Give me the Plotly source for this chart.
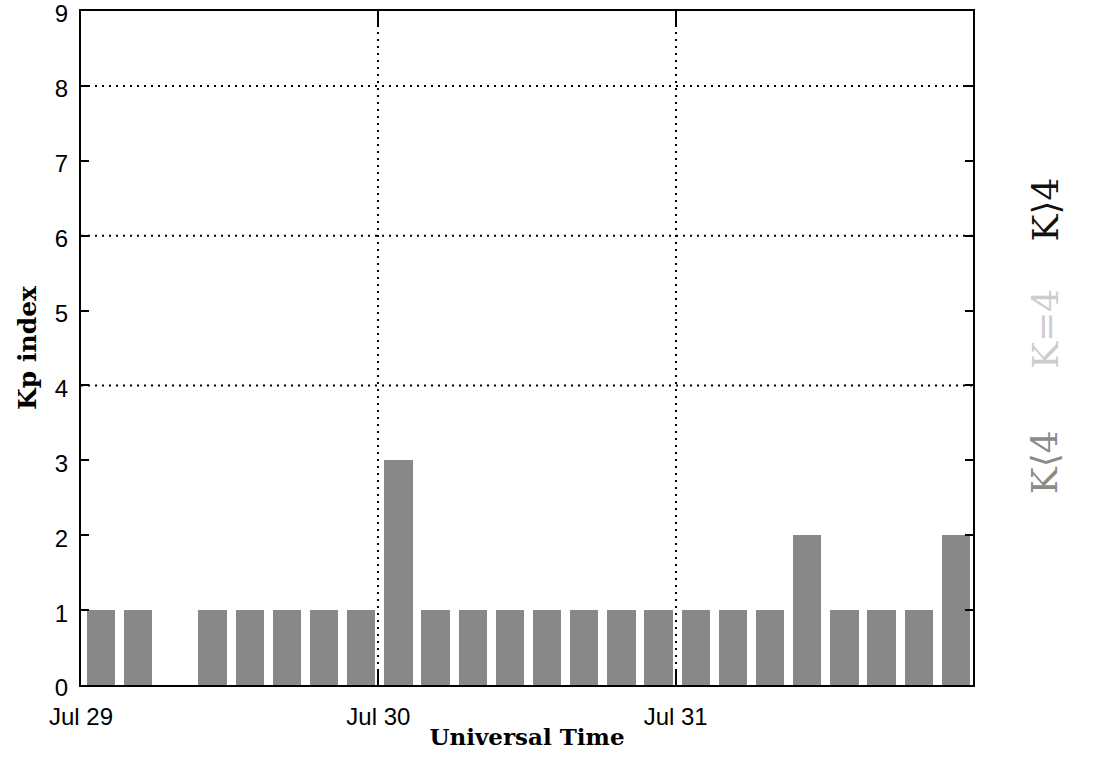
import pandas as pd
import plotly.graph_objects as go

# 3-hour interval start times (UT) and Kp values
SLOT_STARTS = pd.date_range("2011-07-29 00:00", periods=24, freq="3h")
KP_VALUES = [1, 1, None, 1, 1, 1, 1, 1,
             3, 1, 1, 1, 1, 1, 1, 1,
             1, 1, 1, 2, 1, 1, 1, 2]
TICK_DATES = ["2011-07-29", "2011-07-30", "2011-07-31"]
TICK_LABELS = ["Jul 29", "Jul 30", "Jul 31"]
Y_TICKS = [0, 1, 2, 3, 4, 5, 6, 7, 8, 9]
Y_GRID = [4, 6, 8]
X_RANGE = ["2011-07-29 00:00", "2011-08-01 00:00"]
LEGEND_TEXT = ["K\u27e84", "K=4", "K\u27e94"]
LEGEND_COLORS = ["#8a8a8a", "#cdcdcd", "#111111"]
LEGEND_Y = [0.331, 0.529, 0.706]

slot_ms = 3 * 3600 * 1000
fig = go.Figure()
fig.add_trace(go.Bar(
    x=SLOT_STARTS, y=KP_VALUES,
    width=[0.76 * slot_ms] * len(KP_VALUES),
    offset=0.16 * slot_ms,
    marker=dict(color="#888888", line=dict(width=0)),
    showlegend=False,
))

dot = dict(color="black", width=2, dash="2px,5px")
for g in Y_GRID:
    fig.add_shape(type="line", xref="paper", x0=0, x1=1, yref="y", y0=g, y1=g,
                  line=dot, layer="above")

for txt, col, yy in zip(LEGEND_TEXT, LEGEND_COLORS, LEGEND_Y):
    fig.add_annotation(text=txt, xref="paper", yref="paper", x=1.081, y=yy,
                       xanchor="center", yanchor="middle",
                       textangle=-90, showarrow=False,
                       font=dict(family="DejaVu Serif", size=36, color=col))

tick_font = dict(family="Liberation Sans", size=24, color="black")
fig.update_layout(
    width=1096, height=768,
    margin=dict(l=81, r=123, t=11, b=83),
    plot_bgcolor="white", paper_bgcolor="white",
    bargap=0,
    xaxis=dict(
        type="date", range=X_RANGE, automargin=False,
        tickvals=TICK_DATES, ticktext=TICK_LABELS,
        ticks="inside", ticklen=15, tickwidth=2, tickcolor="black",
        showline=True, linecolor="black", linewidth=2, mirror="ticks",
        showgrid=True, gridcolor="black", gridwidth=2, griddash="2px,5px",
        tickfont=tick_font, ticklabelstandoff=9, ticklabeloverflow="allow",
        title=dict(text="<b>Universal Time</b>", standoff=0,
                   font=dict(family="DejaVu Serif", size=23, color="black")),
        zeroline=False,
    ),
    yaxis=dict(
        range=[0, 9], tickvals=Y_TICKS, automargin=False,
        ticks="inside", ticklen=8, tickwidth=2, tickcolor="black",
        showline=True, linecolor="black", linewidth=2, mirror="ticks",
        showgrid=False, zeroline=False,
        tickfont=tick_font, ticklabelstandoff=6, ticklabeloverflow="allow",
        ticklabelshift=3,
        title=dict(text="<b>Kp index</b>", standoff=11,
                   font=dict(family="DejaVu Serif", size=25, color="black")),
    ),
)

fig.write_html("out.html", config={"displayModeBar": False},
               post_script="document.body.style.margin='0px';")
